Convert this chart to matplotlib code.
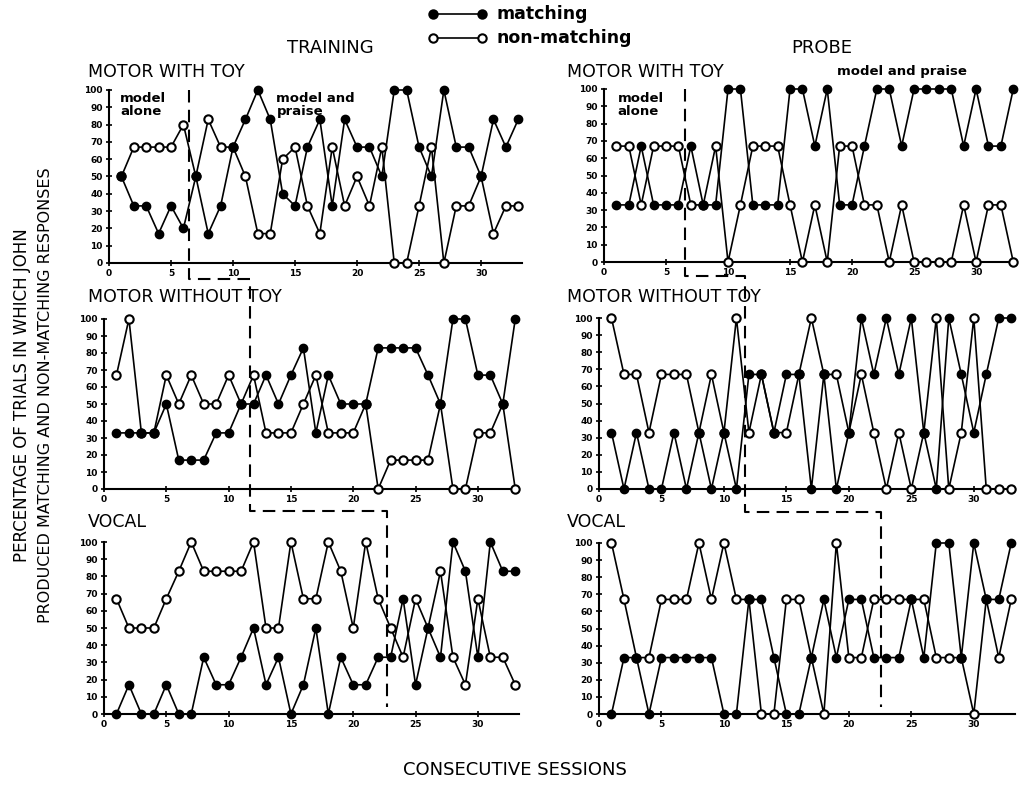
"""
Matching vs non-matching responses for John across consecutive sessions:
training (left) and probe (right) for motor with toy, motor without toy, vocal.
"""
import numpy as np
import matplotlib.pyplot as plt
from matplotlib.lines import Line2D

sessions = np.arange(1, 34)

# training, motor with toy
tr_toy_match = [50, 33, 33, 17, 33, 20, 50, 17, 33, 67, 83, 100, 83, 40, 33, 67, 83,
                33, 83, 67, 67, 50, 100, 100, 67, 50, 100, 67, 67, 50, 83, 67, 83]
tr_toy_non = [50, 67, 67, 67, 67, 80, 50, 83, 67, 67, 50, 17, 17, 60, 67, 33, 17,
              67, 33, 50, 33, 67, 0, 0, 33, 67, 0, 33, 33, 50, 17, 33, 33]
# probe, motor with toy
pr_toy_match = [33, 33, 67, 33, 33, 33, 67, 33, 33, 100, 100, 33, 33, 33, 100, 100, 67,
                100, 33, 33, 67, 100, 100, 67, 100, 100, 100, 100, 67, 100, 67, 67, 100]
pr_toy_non = [67, 67, 33, 67, 67, 67, 33, 33, 67, 0, 33, 67, 67, 67, 33, 0, 33,
              0, 67, 67, 33, 33, 0, 33, 0, 0, 0, 0, 33, 0, 33, 33, 0]
# training, motor without toy
tr_notoy_match = [33, 33, 33, 33, 50, 17, 17, 17, 33, 33, 50, 50, 67, 50, 67, 83, 33,
                  67, 50, 50, 50, 83, 83, 83, 83, 67, 50, 100, 100, 67, 67, 50, 100]
tr_notoy_non = [67, 100, 33, 33, 67, 50, 67, 50, 50, 67, 50, 67, 33, 33, 33, 50, 67,
                33, 33, 33, 50, 0, 17, 17, 17, 17, 50, 0, 0, 33, 33, 50, 0]
# probe, motor without toy
pr_notoy_match = [33, 0, 33, 0, 0, 33, 0, 33, 0, 33, 0, 67, 67, 33, 67, 67, 0,
                  67, 0, 33, 100, 67, 100, 67, 100, 33, 0, 100, 67, 33, 67, 100, 100]
pr_notoy_non = [100, 67, 67, 33, 67, 67, 67, 33, 67, 33, 100, 33, 67, 33, 33, 67, 100,
                67, 67, 33, 67, 33, 0, 33, 0, 33, 100, 0, 33, 100, 0, 0, 0]
# training, vocal
tr_vocal_match = [0, 17, 0, 0, 17, 0, 0, 33, 17, 17, 33, 50, 17, 33, 0, 17, 50,
                  0, 33, 17, 17, 33, 33, 67, 17, 50, 33, 100, 83, 33, 100, 83, 83]
tr_vocal_non = [67, 50, 50, 50, 67, 83, 100, 83, 83, 83, 83, 100, 50, 50, 100, 67, 67,
                100, 83, 50, 100, 67, 50, 33, 67, 50, 83, 33, 17, 67, 33, 33, 17]
# probe, vocal
pr_vocal_match = [0, 33, 33, 0, 33, 33, 33, 33, 33, 0, 0, 67, 67, 33, 0, 0, 33,
                  67, 33, 67, 67, 33, 33, 33, 67, 33, 100, 100, 33, 100, 67, 67, 100]
pr_vocal_non = [100, 67, 33, 33, 67, 67, 67, 100, 67, 100, 67, 67, 0, 0, 67, 67, 33,
                0, 100, 33, 33, 67, 67, 67, 67, 67, 33, 33, 33, 0, 67, 33, 67]

y_ticks = list(range(0, 101, 10))
x_ticks = list(range(0, 31, 5))

W, H = 1020, 787
fig = plt.figure(figsize=(W / 100, H / 100), dpi=100)
fig.patch.set_facecolor("white")


def add_panel(left, top, right, bottom):
    return fig.add_axes([left / W, 1 - bottom / H, (right - left) / W, (bottom - top) / H])


def draw(ax, match, non):
    ax.plot(sessions, non, color="black", lw=1.2, zorder=2, clip_on=False)
    ax.plot(sessions, match, color="black", lw=1.2, zorder=2, clip_on=False)
    ax.plot(sessions, non, "o", ms=6, mfc="white", mec="black", mew=1.5,
            zorder=3, clip_on=False)
    ax.plot(sessions, match, "o", ms=6, color="black", zorder=4, clip_on=False)
    ax.set_xlim(0, 33.3)
    ax.set_ylim(0, 100)
    ax.set_yticks(y_ticks)
    ax.set_xticks(x_ticks)
    ax.tick_params(direction="inout", length=5, width=1.2, labelsize=6.5, pad=2)
    for lab in ax.get_xticklabels() + ax.get_yticklabels():
        lab.set_fontweight("bold")
    for s in ["top", "right"]:
        ax.spines[s].set_visible(False)
    for s in ["left", "bottom"]:
        ax.spines[s].set_linewidth(1.5)
    ax.set_facecolor("none")


ax1 = add_panel(109, 90, 522, 263)
ax2 = add_panel(604, 89, 1017, 262)
ax3 = add_panel(104, 319, 519, 489)
ax4 = add_panel(599, 318, 1015, 489)
ax5 = add_panel(104, 542, 519, 714)
ax6 = add_panel(599, 543, 1015, 714)

draw(ax1, tr_toy_match, tr_toy_non)
draw(ax2, pr_toy_match, pr_toy_non)
draw(ax3, tr_notoy_match, tr_notoy_non)
draw(ax4, pr_notoy_match, pr_notoy_non)
draw(ax5, tr_vocal_match, tr_vocal_non)
draw(ax6, pr_vocal_match, pr_vocal_non)

# panel captions
lab_kw = dict(fontsize=12.5, ha="left", va="center")
fig.text(88 / W, 1 - 72 / H, "MOTOR WITH TOY", **lab_kw)
fig.text(88 / W, 1 - 297 / H, "MOTOR WITHOUT TOY", **lab_kw)
fig.text(88 / W, 1 - 522 / H, "VOCAL", **lab_kw)
fig.text(567 / W, 1 - 72 / H, "MOTOR WITH TOY", **lab_kw)
fig.text(567 / W, 1 - 297 / H, "MOTOR WITHOUT TOY", **lab_kw)
fig.text(567 / W, 1 - 522 / H, "VOCAL", **lab_kw)

fig.text(330 / W, 1 - 48 / H, "TRAINING", fontsize=13, ha="center", va="center")
fig.text(822 / W, 1 - 48 / H, "PROBE", fontsize=13, ha="center", va="center")

note_kw = dict(fontsize=9.5, fontweight="bold", ha="left", va="top", linespacing=1.0)
ax1.text(0.9, 99, "model\nalone", **note_kw)
ax1.text(13.5, 99, "model and\npraise", **note_kw)
ax2.text(1.1, 98, "model\nalone", **note_kw)
ax2.text(18.8, 114, "model and praise", **note_kw)

# legend
for y, face, name in [(14, "black", "matching"), (38, "white", "non-matching")]:
    fig.add_artist(Line2D([433 / W, 482 / W], [1 - y / H] * 2, transform=fig.transFigure,
                          color="black", lw=1.2, marker="o", ms=6, mfc=face,
                          mec="black", mew=1.5))
    fig.text(497 / W, 1 - y / H, name, fontsize=12.5, fontweight="bold", ha="left", va="center")

# axis titles
fig.text(22 / W, 1 - 395 / H, "PERCENTAGE OF TRIALS IN WHICH JOHN", rotation=90,
         fontsize=12, ha="center", va="center")
fig.text(46 / W, 1 - 395 / H, "PRODUCED MATCHING AND NON-MATCHING RESPONSES", rotation=90,
         fontsize=11.5, ha="center", va="center")
fig.text(515 / W, 1 - 770 / H, "CONSECUTIVE SESSIONS", fontsize=13, ha="center", va="center")

# dashed phase-change staircases (model alone -> model and praise)
fig.canvas.draw()
to_fig = fig.transFigure.inverted()


def xfig(ax, x):
    return to_fig.transform(ax.transData.transform((x, 0)))[0]


def yfig(ax, y):
    return to_fig.transform(ax.transData.transform((0, y)))[1]


def staircase(axa, xa, yh1, axb, xb, yh2, axc, xc):
    xs = [xfig(axa, xa), xfig(axa, xa), xfig(axb, xb), xfig(axb, xb), xfig(axc, xc), xfig(axc, xc)]
    ys = [yfig(axa, 100), 1 - yh1 / H, 1 - yh1 / H, 1 - yh2 / H, 1 - yh2 / H, yfig(axc, 4)]
    fig.add_artist(Line2D(xs, ys, transform=fig.transFigure, color="black", lw=1.5,
                          linestyle=(0, (6, 3.5)), zorder=1))


staircase(ax1, 6.45, 279, ax3, 11.7, 511, ax5, 22.7)
staircase(ax2, 6.5, 276, ax4, 11.7, 512, ax6, 22.6)

fig.savefig("out.png", dpi=100, facecolor="white")
